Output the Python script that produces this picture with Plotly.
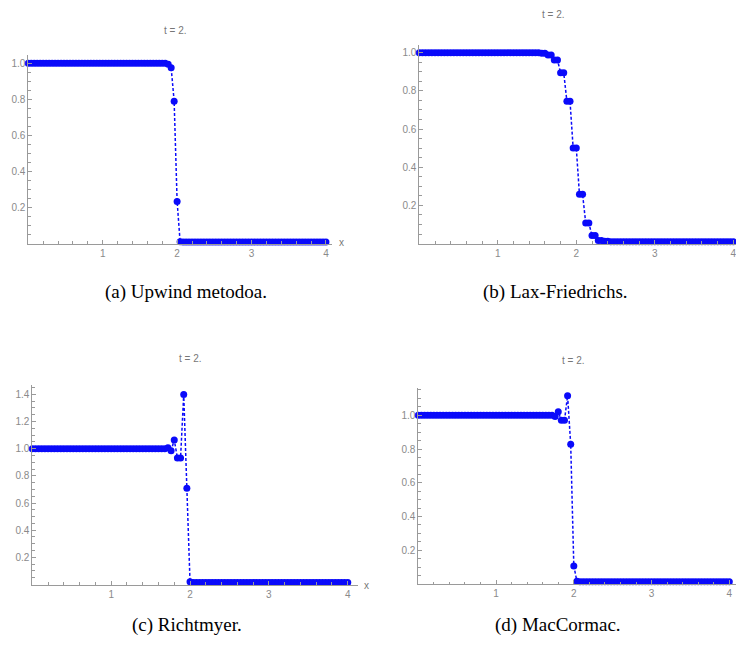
import plotly.graph_objects as go

# the page body has an 8px margin, so the figure is drawn 8px in from the window corner
OFF = 8
W, H = 744 - OFF, 651 - OFF

# grid: 101 points on [0, 4]
X_GRID = [round(0.04 * i, 2) for i in range(101)]

# (a) Upwind
upwind = [1.0] * 47 + [0.995, 0.975, 0.79, 0.235, 0.012] + [0.01] * 49
# (b) Lax-Friedrichs (odd-even pairs)
lax = [1.0] * 37 + [0.999, 0.999, 0.997, 0.997, 0.988, 0.988, 0.962, 0.962,
                    0.895, 0.895, 0.745, 0.745, 0.5, 0.5, 0.258, 0.258,
                    0.108, 0.108, 0.042, 0.042, 0.016, 0.016, 0.012, 0.012,
                    0.01, 0.01] + [0.01] * 38
# (c) Richtmyer
richt = [1.0] * 43 + [1.008, 0.985, 1.064, 0.932, 0.932, 1.40, 0.708, 0.02] + [0.015] * 50
# (d) MacCormack
mac = [1.0] * 44 + [0.993, 1.021, 0.97, 0.97, 1.116, 0.828, 0.107, 0.016] + [0.014] * 49

titles = ["t = 2.", "t = 2.", "t = 2.", "t = 2."]
captions = ["(a) Upwind metodoa.", "(b) Lax-Friedrichs.", "(c) Richtmyer.", "(d) MacCormac."]
x_ticks = [1, 2, 3, 4]
y_ticks_small = [0.2, 0.4, 0.6, 0.8, 1.0]
y_ticks_large = [0.2, 0.4, 0.6, 0.8, 1.0, 1.2, 1.4]

# panel geometry in window pixels: left, right, bottom, top, xmax, ymax
panels = [
    dict(y=upwind, l=28.3, r=331.9, b=243.8, t=55.2, xmax=4.08, ymax=1.045, yt=y_ticks_small,
         title=(175, 30), cap=(186, 292), xlab=(341, 243)),
    dict(y=lax, l=419.3, r=741.0, b=243.6, t=45.0, xmax=4.098, ymax=1.04, yt=y_ticks_small,
         title=(553, 15), cap=(555, 292), xlab=None),
    dict(y=richt, l=32.3, r=358.0, b=584.5, t=384.9, xmax=4.13, ymax=1.47, yt=y_ticks_large,
         title=(190, 358), cap=(187, 625), xlab=(366, 585)),
    dict(y=mac, l=418.3, r=737.1, b=584.0, t=388.3, xmax=4.1, ymax=1.16, yt=y_ticks_small,
         title=(573, 360), cap=(558, 625), xlab=None),
]


def px(x):
    return (x - OFF) / W


def py(y):
    return 1 - (y - OFF) / H


BLUE = "rgb(10,10,250)"
AX = "#9a9a9a"
LBL = "#8a8a8a"

fig = go.Figure()
layout = dict(width=W, height=H, margin=dict(l=0, r=0, t=0, b=0),
              paper_bgcolor="white", plot_bgcolor="white", showlegend=False)
annotations = []

for k, p in enumerate(panels):
    n = "" if k == 0 else str(k + 1)
    fig.add_trace(go.Scatter(
        x=X_GRID, y=p["y"], mode="lines+markers",
        line=dict(color=BLUE, width=1.5, dash="3px,2px"),
        marker=dict(color=BLUE, size=7),
        cliponaxis=False,
        xaxis="x" + n, yaxis="y" + n))
    layout["xaxis" + n] = dict(
        domain=[px(p["l"]), min(1.0, px(p["r"]))], range=[0, p["xmax"]], anchor="y" + n,
        showgrid=False, zeroline=False, showline=True, linecolor=AX, linewidth=1,
        tickmode="array", tickvals=x_ticks, ticktext=[str(v) for v in x_ticks],
        ticks="inside", ticklen=4, tickcolor=AX,
        tickfont=dict(family="Liberation Sans, Arial", size=10, color=LBL),
        minor=dict(tickmode="linear", tick0=0, dtick=0.2, ticks="inside", ticklen=2.5, tickcolor=AX),
    )
    layout["yaxis" + n] = dict(
        domain=[py(p["b"]), py(p["t"])], range=[0, p["ymax"]], anchor="x" + n,
        showgrid=False, zeroline=False, showline=True, linecolor=AX, linewidth=1,
        tickmode="array", tickvals=p["yt"], ticktext=["%.1f" % v for v in p["yt"]],
        ticks="inside", ticklen=4, tickcolor=AX,
        tickfont=dict(family="Liberation Sans, Arial", size=10, color=LBL),
        minor=dict(tickmode="linear", tick0=0, dtick=0.05, ticks="inside", ticklen=2.5, tickcolor=AX),
    )
    tx, ty = p["title"]
    annotations.append(dict(text=titles[k], x=px(tx), y=py(ty), xref="paper", yref="paper",
                            showarrow=False, xanchor="center", yanchor="middle",
                            font=dict(family="Liberation Sans, Arial", size=10, color="#777777")))
    cx, cy = p["cap"]
    annotations.append(dict(text=captions[k], x=px(cx), y=py(cy), xref="paper", yref="paper",
                            showarrow=False, xanchor="center", yanchor="middle",
                            font=dict(family="Liberation Serif, serif", size=19, color="black")))
    if p["xlab"]:
        lx, ly = p["xlab"]
        annotations.append(dict(text="x", x=px(lx), y=py(ly), xref="paper", yref="paper",
                                showarrow=False, xanchor="center", yanchor="middle",
                                font=dict(family="Liberation Sans, Arial", size=10, color="#777777")))

layout["annotations"] = annotations
fig.update_layout(**layout)
fig.write_html("out.html")
